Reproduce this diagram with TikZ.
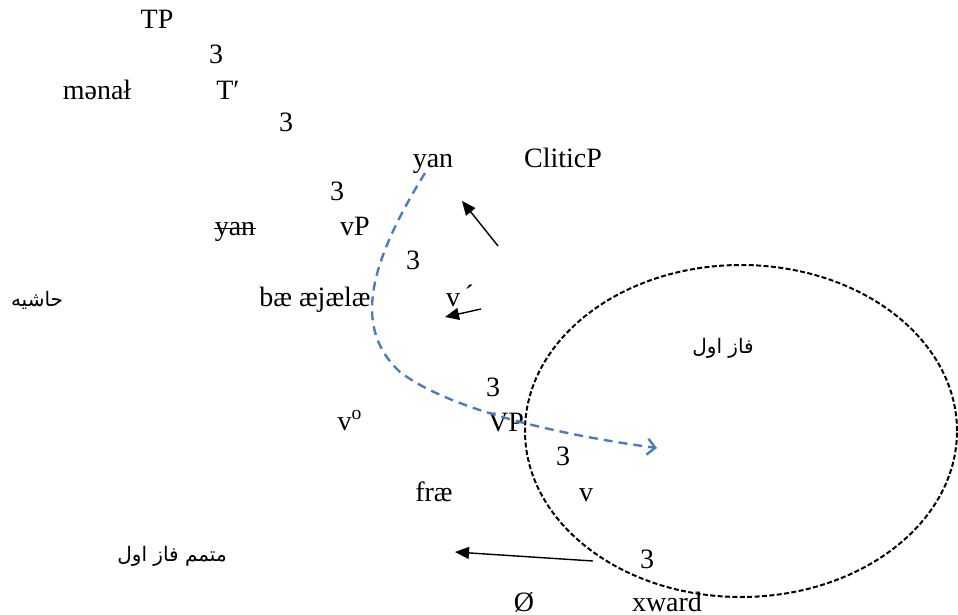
\documentclass[tikz,border=0pt]{standalone}
\usepackage{fontspec}
\setmainfont{Liberation Serif}
\newfontfamily\arabicfont[Script=Arabic]{DejaVu Sans}
\TeXXeTstate=1
\usetikzlibrary{arrows.meta}
\definecolor{dashblue}{HTML}{4A7EBB}
\tikzset{
  lbl/.style={anchor=base, inner sep=0pt, font=\fontsize{14}{16}\selectfont},
  ar/.style={inner sep=0pt, font=\arabicfont\fontsize{10}{12}\selectfont},
  movearrow/.style={line width=0.7pt, -{Triangle[length=7pt,width=6pt]}},
  bluepath/.style={draw=dashblue, line width=1.2pt, dash pattern=on 4.5pt off 3pt, -{Straight Barb[length=4pt,width=8pt,line width=1.2pt]}},
  phaseline/.style={line width=1pt, dash pattern=on 2.5pt off 1.2pt}
}
\begin{document}
\begin{tikzpicture}[x=0.5pt,y=-0.5pt]
\useasboundingbox (0,0) rectangle (958,615);
% tree labels
\node[lbl] (TP) at (157,29) {TP};
\node[lbl] (b1) at (216,64) {3};
\node[lbl] (menal) at (97,100) {mənał};
\node[lbl] (Tbar) at (228,100) {T′};
\node[lbl] (b2) at (286,132) {3};
\node[lbl] (yanT) at (433,168) {yan};
\node[lbl] (CliticP) at (563,168) {CliticP};
\node[lbl] (b3) at (337,200) {3};
\node[lbl] (yanS) at (235,235) {yan};
\node[lbl] (vP) at (355,235) {vP};
\node[lbl] (b4) at (413,269) {3};
\node[lbl] (baeajaelae) at (315,306) {bæ æjælæ};
\node[lbl] (vbar) at (460,306) {v\,\raisebox{1pt}{´}};
\node[lbl] (b5) at (493,396) {3};
\node[lbl] (vo) at (350,430) {v\textsuperscript{o}};
\node[lbl] (VP) at (506,431) {VP};
\node[lbl] (b6) at (563,465) {3};
\node[lbl] (frae) at (434,501) {fræ};
\node[lbl] (v) at (586,501) {v};
\node[lbl] (b7) at (647,568) {3};
\node[lbl] (O) at (524,611) {Ø};
\node[lbl] (xward) at (667,611) {xward};
% strike-through on lower yan
\draw[line width=0.6pt] ([yshift=3.3pt]yanS.base west) -- ([yshift=3.3pt]yanS.base east);
% Persian labels
\node[ar] (hashiye) at (37,300) {\beginR حاشیه\endR};
\node[ar] (faz) at (723,348) {\beginR فاز اول\endR};
\node[ar] (motammam) at (172,556) {\beginR متمم فاز اول\endR};
% phase ellipse
\coordinate (phase) at (741,431);
\draw[phaseline] (phase) ellipse [x radius=108pt, y radius=83pt];
% black movement arrows
\coordinate (a1s) at (498,246); \coordinate (a1e) at (462,201);
\coordinate (a2s) at (481,309); \coordinate (a2e) at (445,317);
\coordinate (a3s) at (593,561); \coordinate (a3e) at (455,552);
\draw[movearrow] (a1s) -- (a1e);
\draw[movearrow] (a2s) -- (a2e);
\draw[movearrow] (a3s) -- (a3e);
% blue dashed curved arrow
\coordinate (bs) at (425,173);
\coordinate (bm) at (400,372);
\coordinate (be) at (657,448);
\draw[bluepath] (bs) .. controls (365,270) and (355,330) .. (bm) .. controls (450,410) and (560,435) .. (be);
\end{tikzpicture}
\end{document}
